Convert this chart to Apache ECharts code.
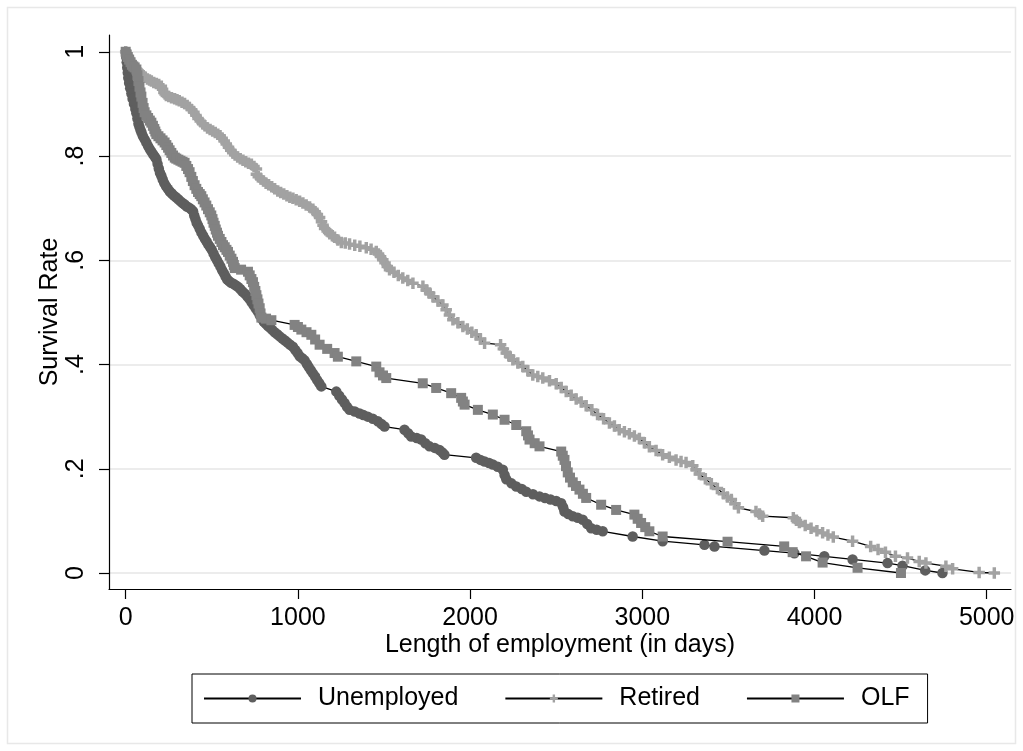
<!DOCTYPE html>
<html>
<head>
<meta charset="utf-8">
<script src="https://cdn.jsdelivr.net/npm/echarts@6/dist/echarts.min.js"></script>
<style>
  html, body { margin: 0; padding: 0; background: #fff; }
  #chart { width: 1023px; height: 751px; }
</style>
</head>
<body>
<div id="chart"></div>
<script>
// Kaplan-Meier survival estimates by exit status: [days, survival rate]
const seriesNames = ['Unemployed', 'Retired', 'OLF'];

const unemployedData = [
  [0,1],[3,0.99],[6,0.98],[9,0.97],[12,0.96],[15,0.95],[20,0.94],[26,0.93],[33,0.92],[40,0.91],[48,0.90],[56,0.89],
  [62,0.882],[68,0.872],[74,0.862],[80,0.856],[86,0.850],[92,0.845],[100,0.838],[110,0.832],[120,0.826],[130,0.819],
  [140,0.813],[150,0.808],[160,0.803],[170,0.798],[178,0.794],[185,0.785],[192,0.776],[199,0.768],[207,0.762],[215,0.755],
  [224,0.748],[234,0.742],[245,0.737],[256,0.732],[268,0.728],[280,0.724],[292,0.721],[305,0.717],[318,0.713],[330,0.710],
  [342,0.707],[355,0.703],[368,0.701],[380,0.698],[391,0.694],[398,0.686],[405,0.679],[412,0.672],[420,0.667],[430,0.660],
  [440,0.653],[450,0.647],[460,0.641],[470,0.636],[480,0.630],[490,0.625],[500,0.620],[510,0.613],[520,0.606],[530,0.600],
  [540,0.594],[550,0.588],[560,0.581],[570,0.575],[580,0.569],[590,0.563],[600,0.560],[612,0.557],[625,0.555],[638,0.552],
  [652,0.549],[665,0.545],[678,0.540],[692,0.536],[705,0.531],[718,0.526],[730,0.520],[742,0.514],[754,0.508],[766,0.502],
  [778,0.495],[790,0.488],[802,0.482],[814,0.478],[826,0.474],[840,0.470],[852,0.466],[865,0.462],[880,0.458],[894,0.454],
  [910,0.450],[925,0.446],[940,0.442],[955,0.438],[971,0.434],[985,0.428],[998,0.422],[1010,0.416],[1025,0.412],[1039,0.408],
  [1052,0.401],[1063,0.395],[1075,0.389],[1087,0.383],[1100,0.377],[1112,0.370],[1124,0.364],[1136,0.358],[1223,0.348],
  [1240,0.340],[1256,0.333],[1271,0.326],[1285,0.319],[1300,0.313],[1330,0.310],[1358,0.306],[1380,0.303],[1406,0.300],
  [1435,0.296],[1464,0.291],[1485,0.286],[1503,0.281],[1619,0.275],[1640,0.268],[1658,0.262],[1690,0.259],[1716,0.256],
  [1740,0.249],[1764,0.243],[1795,0.240],[1822,0.236],[1840,0.231],[1851,0.227],[2035,0.221],[2060,0.217],[2084,0.214],
  [2110,0.211],[2132,0.208],[2160,0.204],[2190,0.198],[2200,0.188],[2210,0.180],[2240,0.172],[2268,0.166],[2300,0.161],
  [2326,0.156],[2365,0.151],[2403,0.147],[2435,0.144],[2467,0.141],[2500,0.138],[2529,0.134],[2540,0.126],[2548,0.118],
  [2570,0.113],[2596,0.109],[2625,0.106],[2654,0.102],[2680,0.094],[2703,0.086],[2735,0.083],[2770,0.080],[2944,0.070],
  [3118,0.061],[3361,0.054],[3419,0.051],[3709,0.043],[3883,0.038],[4057,0.032],[4221,0.026],[4424,0.019],[4511,0.014],
  [4643,0.005],[4743,0]
];

const retiredData = [
  [0,1],[5,0.996],[10,0.992],[16,0.988],[22,0.984],[30,0.980],[38,0.977],[46,0.973],[55,0.969],[64,0.966],[73,0.963],
  [82,0.960],[91,0.957],[102,0.954],[114,0.951],[126,0.948],[138,0.946],[149,0.944],[163,0.941],[178,0.939],[192,0.937],
  [207,0.934],[214,0.928],[222,0.922],[229,0.919],[236,0.916],[250,0.914],[266,0.912],[284,0.910],[298,0.908],[311,0.906],
  [327,0.903],[342,0.901],[357,0.897],[370,0.893],[383,0.889],[396,0.884],[408,0.878],[420,0.872],[433,0.867],[447,0.862],
  [460,0.858],[475,0.854],[490,0.851],[505,0.848],[520,0.845],[535,0.842],[548,0.839],[560,0.834],[572,0.829],[584,0.823],
  [597,0.817],[610,0.811],[622,0.806],[635,0.802],[650,0.798],[665,0.795],[681,0.792],[697,0.789],[713,0.786],[730,0.784],
  [745,0.780],[759,0.775],[759,0.765],[770,0.760],[785,0.756],[800,0.752],[815,0.748],[830,0.745],[848,0.741],[865,0.737],
  [883,0.733],[900,0.730],[918,0.727],[936,0.724],[953,0.721],[971,0.719],[990,0.716],[1010,0.713],[1029,0.710],[1048,0.706],
  [1068,0.702],[1087,0.698],[1100,0.693],[1113,0.688],[1126,0.682],[1137,0.674],[1146,0.667],[1155,0.661],[1170,0.656],
  [1185,0.651],[1200,0.647],[1213,0.644],[1232,0.639],[1252,0.634],[1275,0.633],[1300,0.631],[1330,0.629],[1360,0.627],
  [1397,0.624],[1425,0.621],[1455,0.617],[1468,0.612],[1480,0.607],[1493,0.601],[1506,0.595],[1519,0.588],[1532,0.582],
  [1558,0.577],[1583,0.571],[1609,0.566],[1638,0.561],[1668,0.556],[1726,0.550],[1745,0.543],[1765,0.537],[1784,0.530],
  [1813,0.522],[1842,0.514],[1861,0.505],[1880,0.495],[1900,0.486],[1929,0.480],[1958,0.473],[1984,0.468],[2010,0.462],
  [2035,0.457],[2060,0.449],[2084,0.441],[2177,0.438],[2193,0.430],[2210,0.422],[2229,0.416],[2248,0.409],[2277,0.403],
  [2306,0.396],[2335,0.388],[2364,0.380],[2393,0.377],[2422,0.374],[2461,0.369],[2500,0.363],[2529,0.356],[2558,0.348],
  [2587,0.341],[2616,0.334],[2645,0.328],[2674,0.321],[2707,0.313],[2740,0.304],[2775,0.296],[2809,0.288],[2838,0.282],
  [2866,0.275],[2896,0.271],[2925,0.267],[2954,0.263],[2983,0.258],[3012,0.250],[3041,0.242],[3080,0.235],[3118,0.227],
  [3157,0.222],[3196,0.217],[3225,0.214],[3254,0.212],[3293,0.206],[3312,0.198],[3331,0.190],[3366,0.181],[3401,0.171],
  [3436,0.162],[3471,0.152],[3494,0.146],[3517,0.141],[3538,0.133],[3558,0.125],[3660,0.118],[3680,0.113],[3699,0.109],
  [3877,0.106],[3895,0.101],[3912,0.097],[3946,0.091],[3980,0.086],[4014,0.081],[4047,0.077],[4078,0.073],[4109,0.069],
  [4221,0.061],[4326,0.051],[4369,0.045],[4412,0.040],[4470,0.032],[4540,0.029],[4608,0.022],[4647,0.019],[4763,0.013],
  [4802,0.008],[4956,0.001],[5044,0]
];

const olfData = [
  [0,1],[5,0.995],[12,0.99],[20,0.985],[28,0.98],[36,0.975],[44,0.972],[52,0.970],[62,0.966],[68,0.955],[74,0.944],
  [80,0.933],[86,0.922],[91,0.914],[98,0.902],[104,0.892],[110,0.884],[120,0.878],[130,0.873],[140,0.868],[149,0.864],
  [158,0.858],[166,0.852],[172,0.847],[178,0.842],[190,0.838],[202,0.834],[214,0.830],[226,0.826],[236,0.821],[246,0.816],
  [255,0.811],[265,0.806],[275,0.801],[285,0.797],[294,0.795],[306,0.793],[318,0.791],[330,0.789],[342,0.787],[352,0.781],
  [362,0.775],[371,0.769],[381,0.760],[390,0.752],[400,0.744],[410,0.737],[420,0.731],[430,0.727],[439,0.723],[448,0.717],
  [458,0.711],[468,0.705],[478,0.698],[488,0.692],[497,0.686],[504,0.679],[510,0.672],[517,0.666],[523,0.659],[530,0.653],
  [536,0.647],[546,0.641],[556,0.635],[565,0.629],[575,0.625],[585,0.620],[594,0.616],[604,0.609],[614,0.603],[623,0.597],
  [628,0.591],[633,0.585],[670,0.582],[710,0.578],[720,0.571],[730,0.564],[739,0.558],[746,0.549],[753,0.541],[759,0.533],
  [765,0.525],[771,0.517],[778,0.508],[783,0.498],[788,0.490],[815,0.488],[846,0.485],[981,0.476],[1000,0.472],[1020,0.467],
  [1050,0.462],[1078,0.457],[1100,0.448],[1126,0.438],[1170,0.430],[1213,0.422],[1232,0.415],[1339,0.406],[1455,0.396],
  [1474,0.385],[1494,0.379],[1513,0.374],[1725,0.364],[1803,0.355],[1890,0.345],[1948,0.336],[1958,0.329],[1968,0.323],
  [2045,0.313],[2132,0.304],[2200,0.294],[2268,0.284],[2326,0.272],[2336,0.264],[2345,0.256],[2375,0.249],[2403,0.243],
  [2529,0.233],[2538,0.225],[2548,0.217],[2557,0.205],[2567,0.193],[2580,0.183],[2596,0.174],[2615,0.167],[2635,0.160],
  [2655,0.152],[2674,0.144],[2761,0.131],[2848,0.121],[2954,0.112],[2973,0.104],[2993,0.096],[3017,0.088],[3041,0.080],
  [3118,0.070],[3495,0.060],[3824,0.051],[3873,0.040],[3951,0.032],[4047,0.020],[4250,0.010],[4502,0]
];

// Axis ticks and their printed labels
const xTicks = [0, 1000, 2000, 3000, 4000, 5000];
const xTickLabels = ['0', '1000', '2000', '3000', '4000', '5000'];
const yTicks = [0, 0.2, 0.4, 0.6, 0.8, 1];
const yTickLabels = ['0', '.2', '.4', '.6', '.8', '1'];

const FONT = "'Liberation Sans', Arial, Helvetica, sans-serif";
const PLUS = 'path://M3.5,0H6.5V3.5H10V6.5H6.5V10H3.5V6.5H0V3.5H3.5Z';

const markerStyles = {
  Unemployed: { symbol: 'circle', size: 10.5, color: '#5e5e5e' },
  Retired:    { symbol: PLUS,     size: 11.5, color: '#a2a2a2' },
  OLF:        { symbol: 'rect',   size: 10,   color: '#828282' }
};
const seriesData = { Unemployed: unemployedData, Retired: retiredData, OLF: olfData };

function tickText(ticks, labels) {
  return function (v) {
    const i = ticks.findIndex(function (t) { return Math.abs(t - v) < 1e-6; });
    return i >= 0 ? labels[i] : '';
  };
}

const chart = echarts.init(document.getElementById('chart'), null, { renderer: 'canvas' });

const option = {
  animation: false,
  backgroundColor: '#ffffff',
  textStyle: { fontFamily: FONT },
  graphic: [{
    type: 'rect',
    shape: { x: 7.5, y: 7.5, width: 1008, height: 736 },
    style: { fill: 'none', stroke: '#e8e8e8', lineWidth: 1.5 },
    silent: true,
    z: -10
  }],
  grid: {
    left: 109, right: 12, top: 35, bottom: 162,
    outerBoundsMode: 'none'
  },
  xAxis: {
    type: 'value',
    min: -97, max: 5141,
    name: 'Length of employment (in days)',
    nameLocation: 'middle',
    nameGap: 44,
    nameMoveOverlap: false,
    nameTextStyle: { fontSize: 25, color: '#000', fontFamily: FONT },
    axisLine: { show: true, onZero: false, lineStyle: { color: '#000', width: 1.2 } },
    axisTick: { show: true, length: 10, customValues: xTicks, lineStyle: { color: '#000', width: 1.2 } },
    axisLabel: { customValues: xTicks, fontSize: 25, color: '#000', margin: 17, fontFamily: FONT,
                 formatter: tickText(xTicks, xTickLabels) },
    splitLine: { show: false }
  },
  yAxis: {
    type: 'value',
    min: -0.0307, max: 1.0322,
    name: 'Survival Rate',
    nameLocation: 'middle',
    nameGap: 46,
    nameMoveOverlap: false,
    nameTextStyle: { fontSize: 25, color: '#000', fontFamily: FONT },
    axisLine: { show: true, onZero: false, lineStyle: { color: '#000', width: 1.2 } },
    axisTick: { show: true, length: 10, customValues: yTicks, lineStyle: { color: '#000', width: 1.2 } },
    axisLabel: {
      customValues: yTicks,
      rotate: 90,
      fontSize: 25, color: '#000', margin: 20, fontFamily: FONT,
      formatter: tickText(yTicks, yTickLabels)
    },
    splitLine: { show: true, lineStyle: { color: '#e6e6e6', width: 1.5 } }
  },
  legend: {
    data: seriesNames,
    left: 192, top: 674,
    orient: 'horizontal',
    padding: [12, 18, 12, 11],
    itemWidth: 97, itemHeight: 10,
    itemGap: 46,
    borderColor: '#000', borderWidth: 1,
    selectedMode: false,
    textStyle: { fontSize: 25, color: '#000', fontFamily: FONT, padding: [0, 0, 0, 12] }
  },
  series: seriesNames.map(function (name, i) {
    const m = markerStyles[name];
    return {
      name: name,
      type: 'line',
      data: seriesData[name],
      symbol: m.symbol,
      symbolSize: m.size,
      showAllSymbol: true,
      showSymbol: true,
      lineStyle: { color: '#000', width: 1.3 },
      itemStyle: { color: m.color, borderWidth: 0 },
      z: 2 + i,
      silent: true,
      clip: true
    };
  })
};

chart.setOption(option);
</script>
</body>
</html>
